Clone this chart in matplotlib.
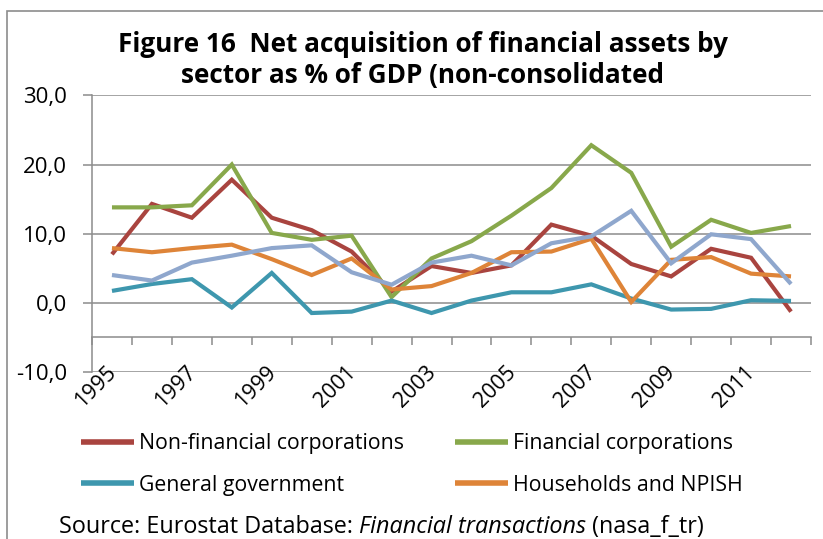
import matplotlib
matplotlib.use("Agg")
import matplotlib.pyplot as plt
from matplotlib.patches import Rectangle
from matplotlib.transforms import offset_copy
import numpy as np

plt.rcParams['font.family'] = ['Open Sans', 'DejaVu Sans']

years = list(range(1995, 2013))
non_financial = [7.0, 14.3, 12.3, 17.8, 12.3, 10.5, 7.4, 1.6, 5.3, 4.3, 5.4, 11.3, 9.7, 5.6, 3.8, 7.8, 6.5, -1.3]
financial = [13.8, 13.8, 14.1, 20.0, 10.1, 9.1, 9.7, 0.8, 6.4, 8.9, 12.6, 16.6, 22.8, 18.8, 8.1, 12.0, 10.1, 11.1]
general_gov = [1.7, 2.7, 3.4, -0.7, 4.3, -1.5, -1.3, 0.3, -1.5, 0.3, 1.5, 1.5, 2.65, 0.6, -1.0, -0.9, 0.35, 0.25]
households = [7.9, 7.3, 7.9, 8.4, 6.3, 4.0, 6.4, 1.9, 2.4, 4.3, 7.3, 7.4, 9.25, 0.1, 6.2, 6.6, 4.2, 3.8]
rest_of_world = [4.0, 3.2, 5.8, 6.8, 7.9, 8.3, 4.4, 2.6, 5.8, 6.8, 5.4, 8.6, 9.6, 13.3, 5.7, 9.9, 9.2, 2.7]

yticks = [-10, 0, 10, 20, 30]
ytick_labels = ['-10,0', '0,0', '10,0', '20,0', '30,0']

c_red = '#A9443F'
c_green = '#88A84B'
c_teal = '#3E97AE'
c_orange = '#DE8438'
c_blue = '#8FA7CD'
grey = '#8C8C8C'

W, H = 823, 539
fig = plt.figure(figsize=(W / 100, H / 100), dpi=100)

# outer chart frame
fig.patches.append(Rectangle((6.5 / W, -0.1), 1.0, 1 - 11 / H + 0.1, transform=fig.transFigure,
                             fill=False, edgecolor=grey, lw=1.2))

ax = fig.add_axes([92 / W, 1 - 371.7 / H, (811 - 92) / W, (371.7 - 95.5) / H])
x = np.arange(len(years))

lines = []
for vals, col, lab in [(non_financial, c_red, 'Non-financial corporations'),
                       (financial, c_green, 'Financial corporations'),
                       (general_gov, c_teal, 'General government'),
                       (households, c_orange, 'Households and NPISH'),
                       (rest_of_world, c_blue, '_nolegend_')]:
    ln, = ax.plot(x, vals, color=col, lw=3.0, solid_capstyle='butt', solid_joinstyle='miter', label=lab)
    lines.append(ln)

ax.set_xlim(-0.5, len(years) - 0.5)
ax.set_ylim(-10, 30)
ax.set_yticks(yticks, ytick_labels)
ax.yaxis.grid(True, color=grey, lw=1.1)
ax.set_axisbelow(True)

for s in ['top', 'right']:
    ax.spines[s].set_visible(False)
ax.spines['left'].set_color(grey)
ax.spines['left'].set_linewidth(1.1)
ax.spines['bottom'].set_position(('data', -5))
ax.spines['bottom'].set_color(grey)
ax.spines['bottom'].set_linewidth(1.1)

ax.set_xticks(np.arange(-0.5, len(years), 1.0))
ax.set_xticklabels([])
ax.tick_params(axis='x', direction='out', length=6, width=1.1, color=grey)
ax.tick_params(axis='y', direction='out', length=6.5, width=1.1, color=grey,
               labelsize=16, pad=11.5)

# category labels, every second year, rotated at the bottom of the plot area
lab_tr = offset_copy(ax.transData, fig=fig, x=-4.5, y=7, units='points')
for i in range(0, len(years), 2):
    ax.text(x[i], -10, str(years[i]), rotation=45, ha='right', va='top',
            rotation_mode='anchor', fontsize=15.5, transform=lab_tr, clip_on=False)

# title
fig.text(422.5 / W, 1 - 51.7 / H, 'Figure 16  Net acquisition of financial assets by',
         ha='center', va='baseline', fontsize=18.8, fontweight='bold')
fig.text(422.5 / W, 1 - 83.3 / H, 'sector as % of GDP (non-consolidated',
         ha='center', va='baseline', fontsize=18.8, fontweight='bold')

# legend in two columns
leg_kw = dict(frameon=False, fontsize=15.3, handlelength=2.5, handletextpad=0.25,
              borderpad=0, borderaxespad=0, labelspacing=0.95, loc='center left')
leg1 = fig.legend([lines[0], lines[2]], ['Non-financial corporations', 'General government'],
                  bbox_to_anchor=(81 / W, 1 - 464.5 / H), **leg_kw)
leg2 = fig.legend([lines[1], lines[3]], ['Financial corporations', 'Households and NPISH'],
                  bbox_to_anchor=(455 / W, 1 - 464.5 / H), **leg_kw)
for lg in (leg1, leg2):
    for h in lg.legend_handles:
        h.set_linewidth(4)

# source line with italic part
fig.canvas.draw()
r = fig.canvas.get_renderer()
xpos = 59
for txt, style in [('Source: Eurostat Database: ', 'normal'),
                   ('Financial transactions', 'italic'),
                   (' (nasa_f_tr)', 'normal')]:
    t = fig.text(xpos / W, 1 - 533 / H, txt, ha='left', va='baseline', fontsize=16.8, style=style)
    xpos += t.get_window_extent(renderer=r).width

fig.savefig('out.png', dpi=100)
